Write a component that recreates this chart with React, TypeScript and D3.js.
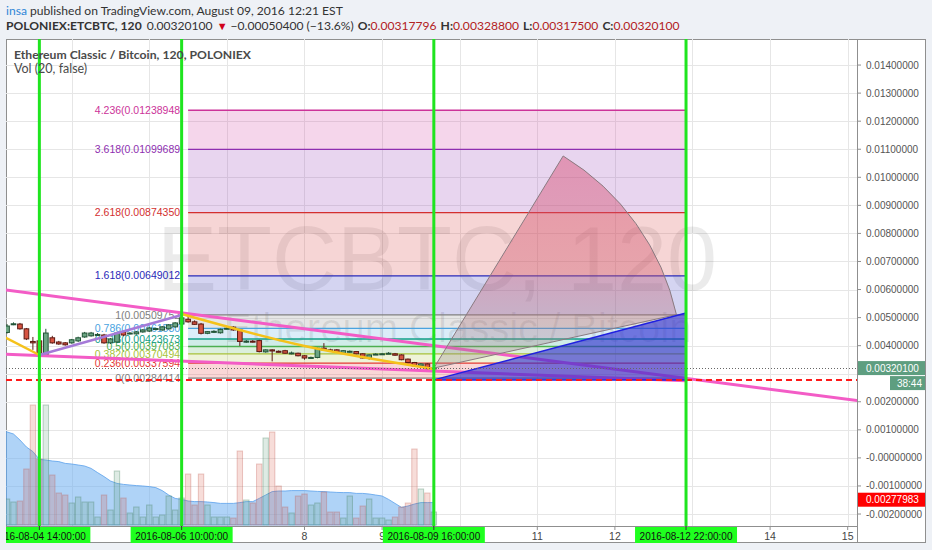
import React from 'react';
import * as d3 from 'd3';

// ---------- header / titles ----------
const HEADER_USER = 'insa';
const HEADER_PUBLISHED = ' published on TradingView.com, August 09, 2016 12:21 EST';
const SYMBOL = 'POLONIEX:ETCBTC, 120';
const LAST_PRICE = '0.00320100';
const CHANGE_TEXT = '\u22120.00050400 (\u221213.6%)';
const OHLC_KEYS = ['O:', 'H:', 'L:', 'C:'];
const OHLC_VALUES = ['0.00317796', '0.00328800', '0.00317500', '0.00320100'];
const TITLE = 'Ethereum Classic / Bitcoin, 120, POLONIEX';
const VOL_TITLE = 'Vol (20, false)';
const WATERMARK_1 = 'ETCBTC, 120';
const WATERMARK_2 = 'Ethereum Classic / Bitcoin';
const COUNTDOWN = '38:44';

// ---------- 120-minute candles, first bar 2016-08-04 04:00 ----------
const BAR_START = Date.UTC(2016, 7, 4, 4, 0);
const BAR_HOURS = 2;
const candleOpen = [
  0.00447, 0.00476, 0.00477, 0.00460, 0.00415, 0.00417, 0.00364, 0.00428, 0.00413, 0.00410,
  0.00410, 0.00417, 0.00431, 0.00435, 0.00438, 0.00438, 0.00410, 0.00413, 0.00449, 0.00444,
  0.00442, 0.00449, 0.00452, 0.00460, 0.00456, 0.00460, 0.00467, 0.00477, 0.00494, 0.00485,
  0.00477, 0.00444, 0.00450, 0.00446, 0.00461, 0.00466, 0.00456, 0.00415, 0.00416, 0.00418,
  0.00378, 0.00385, 0.00380, 0.00382, 0.00372, 0.00373, 0.00364, 0.00357, 0.00358, 0.00391,
  0.00385, 0.00385, 0.00373, 0.00379, 0.00379, 0.00371, 0.00356, 0.00369, 0.00370, 0.00372,
  0.00371, 0.00367, 0.00352, 0.00340, 0.00328, 0.00335, 0.00317796,
];
const candleHigh = [
  0.00477, 0.00483, 0.00481, 0.00463, 0.00431, 0.00420, 0.00460, 0.00435, 0.00417, 0.00413,
  0.00424, 0.00432, 0.00449, 0.00449, 0.00445, 0.00442, 0.00427, 0.00449, 0.00452, 0.00448,
  0.00452, 0.00459, 0.00466, 0.00464, 0.00470, 0.00477, 0.00484, 0.0050975, 0.00506, 0.00490,
  0.00481, 0.00452, 0.00455, 0.00461, 0.00466, 0.00469, 0.00459, 0.00420, 0.00420, 0.00421,
  0.00387, 0.00387, 0.00383, 0.00385, 0.00379, 0.00375, 0.00366, 0.00361, 0.00393, 0.00409,
  0.00389, 0.00388, 0.00384, 0.00383, 0.00381, 0.00373, 0.00369, 0.00373, 0.00374, 0.00377,
  0.00374, 0.00369, 0.00354, 0.00342, 0.00338, 0.00337, 0.003288,
];
const candleLow = [
  0.00443, 0.00473, 0.00457, 0.00420, 0.00385, 0.00361, 0.00361, 0.00407, 0.00403, 0.00400,
  0.00407, 0.00413, 0.00428, 0.00432, 0.00435, 0.00407, 0.00406, 0.00410, 0.00434, 0.00440,
  0.00439, 0.00446, 0.00449, 0.00456, 0.00453, 0.00457, 0.00464, 0.00474, 0.00482, 0.00474,
  0.00440, 0.00441, 0.00445, 0.00443, 0.00458, 0.00453, 0.00399, 0.00410, 0.00411, 0.00376,
  0.00375, 0.00344, 0.00376, 0.00371, 0.00369, 0.00362, 0.00350, 0.00353, 0.00355, 0.00383,
  0.00381, 0.00374, 0.00371, 0.00375, 0.00369, 0.00354, 0.00350, 0.00367, 0.00368, 0.00370,
  0.00364, 0.00348, 0.00337, 0.00326, 0.00325, 0.00314, 0.003175,
];
const candleClose = [
  0.00470, 0.00478, 0.00460, 0.00424, 0.00410, 0.00364, 0.00445, 0.00410, 0.00406, 0.00403,
  0.00421, 0.00428, 0.00445, 0.00445, 0.00440, 0.00410, 0.00424, 0.00445, 0.00438, 0.00445,
  0.00449, 0.00456, 0.00463, 0.00461, 0.00467, 0.00474, 0.00481, 0.00499, 0.00485, 0.00476,
  0.00444, 0.00450, 0.00451, 0.00458, 0.00462, 0.00456, 0.00415, 0.00416, 0.00415, 0.00379,
  0.00385, 0.00381, 0.00379, 0.00373, 0.00374, 0.00364, 0.00356, 0.00358, 0.00391, 0.00385,
  0.00384, 0.00376, 0.00382, 0.00380, 0.00371, 0.00356, 0.00367, 0.00370, 0.00371, 0.00373,
  0.00366, 0.00350, 0.00340, 0.00328, 0.00335, 0.00317, 0.003201,
];
const volume = [
  13, 11.5, 12, 28, 60, 33, 60, 25, 16, 15,
  11, 14, 11.5, 11.5, 4, 15, 7.5, 27, 13.5, 6,
  9, 4, 10, 4, 5, 14.5, 7.5, 13.5, 25.5, 10,
  25.5, 10, 4, 4, 4, 3.5, 37, 12.5, 11, 30.5,
  43.5, 46.5, 19.5, 9, 6, 14.5, 15.5, 10, 11, 16.5,
  6.5, 6.5, 3.5, 14.5, 3.5, 9.5, 13, 3.5, 3.5, 2.5,
  4, 9, 11, 38, 18, 16, 6.5,
];
const volumeMA = [
  46.7, 45.5, 42.5, 39, 36.7, 32.8, 32.5, 32, 31.7, 30.8,
  30.5, 30, 29.5, 28.3, 26.2, 24.2, 22, 20.8, 20.3, 20,
  19.7, 19.5, 19.2, 18.7, 17.2, 15, 13.3, 12.8, 12, 11.7,
  11.7, 11.5, 11.2, 10.8, 10.8, 10.8, 11.2, 11.7, 11.7, 13.3,
  15, 16.7, 17, 17, 17.2, 17.2, 17.2, 17, 16.8, 16.7,
  16.5, 16.3, 16.2, 16.2, 15.8, 15.8, 15.5, 15, 14.5, 12.8,
  10.8, 8.8, 9.5, 10.5, 11.2, 11.2, 11.2,
];

// ---------- Fibonacci retracement ----------
const fibRatios = ['0', '0.236', '0.382', '0.5', '0.618', '0.786', '1', '1.618', '2.618', '3.618', '4.236'];
const fibPrices = [
  0.00284414, 0.00337594, 0.00370494, 0.00397083, 0.00423673, 0.0046153,
  0.00509752, 0.00649012, 0.0087435, 0.01099689, 0.01238948,
];
const fibColors = [
  '#808080', '#e53935', '#a8c23a', '#4caf50', '#13a08a', '#4aa3df',
  '#808080', '#2a2ab8', '#d32f2f', '#8e2fb0', '#cc3399',
];
const FIB_START = Date.UTC(2016, 7, 6, 12, 0);
const FIB_END = Date.UTC(2016, 7, 12, 22, 0);

// ---------- vertical markers ----------
const markerTimes = [
  Date.UTC(2016, 7, 4, 14, 0),
  Date.UTC(2016, 7, 6, 10, 0),
  Date.UTC(2016, 7, 9, 16, 0),
  Date.UTC(2016, 7, 12, 22, 0),
];

// ---------- horizontal lines ----------
const HLINE_PRICE = 0.00277983;
const LAST_VALUE = 0.003201;

// ---------- trend lines (time, price) ----------
const trendUpper = [[Date.UTC(2016, 7, 4, 14, 0), 0.00583], [Date.UTC(2016, 7, 12, 22, 0), 0.002837]];
const trendLower = [[Date.UTC(2016, 7, 4, 14, 0), 0.003646], [Date.UTC(2016, 7, 9, 16, 0), 0.003097]];
const trendLowerEnd = Date.UTC(2016, 7, 12, 22, 0);
const riseLine = [[Date.UTC(2016, 7, 4, 14, 0), 0.003667], [Date.UTC(2016, 7, 6, 10, 0), 0.005093]];
const fallLeft = [[Date.UTC(2016, 7, 4, 2, 0), 0.00438], [Date.UTC(2016, 7, 4, 14, 0), 0.003667]];
const fallCurve = [
  [Date.UTC(2016, 7, 6, 10, 0), 0.005128],
  [Date.UTC(2016, 7, 8, 0, 0), 0.003988],
  [Date.UTC(2016, 7, 9, 16, 0), 0.003172],
];

// ---------- projection shapes ----------
const sectorCenter = [Date.UTC(2016, 7, 9, 16, 0), 0.003201];
const sectorTop = [Date.UTC(2016, 7, 11, 8, 0), 0.01076];
const sectorEnd = [Date.UTC(2016, 7, 12, 20, 0), 0.00513];
const triangle = [
  [Date.UTC(2016, 7, 9, 16, 0), 0.00277983],
  [Date.UTC(2016, 7, 12, 22, 0), 0.005164],
  [Date.UTC(2016, 7, 12, 22, 0), 0.00277983],
];

// ---------- axis ticks ----------
const priceTickLabels = [
  '0.01400000', '0.01300000', '0.01200000', '0.01100000', '0.01000000', '0.00900000',
  '0.00800000', '0.00700000', '0.00600000', '0.00500000', '0.00400000', '0.00300000',
  '0.00200000', '0.00100000', '-0.00000000', '-0.00100000', '-0.00200000',
];
const dayTicks = [5, 6, 7, 8, 9, 10, 11, 12, 13, 14, 15];

const fmtFull = d3.utcFormat('%Y-%m-%d %H:%M:%S');
const UI_FONT = "Lato, 'Open Sans', sans-serif";

export default function App() {
  const W = 932;
  const H = 550;
  const P = { left: 6, right: 857, top: 39, bottom: 526 };
  const axisRight = 926;
  const frameBottom = 543;
  const markerHalf = 51;

  const x = d3
    .scaleUtc()
    .domain([new Date(Date.UTC(2016, 7, 4)), new Date(Date.UTC(2016, 7, 16))])
    .range([-5.9, 925.3]);
  const y = d3.scaleLinear().domain([0, 0.014]).range([457.9, 65.06]);
  const vy = d3.scaleLinear().domain([0, 60]).range([525, 405]);

  const barTime = (i: number) => BAR_START + i * BAR_HOURS * 3600e3;
  const X = (t: number) => x(new Date(t)) as number;
  const barW = X(BAR_START + BAR_HOURS * 3600e3) - X(BAR_START);

  const fibX0 = X(FIB_START);
  const fibX1 = X(FIB_END);

  // extend a 2-point line over the time range [ta, tb]
  const extend = (pts: number[][], ta: number, tb: number): [number, number][] => {
    const [[t1, p1], [t2, p2]] = pts;
    const slope = (p2 - p1) / (t2 - t1);
    return [
      [X(ta), y(p1 + slope * (ta - t1))],
      [X(tb), y(p1 + slope * (tb - t1))],
    ];
  };
  const leftT = Date.UTC(2016, 7, 3, 12, 0);
  const rightT = Date.UTC(2016, 7, 16, 0, 0);
  const upperPts = extend(trendUpper, leftT, rightT);
  const lowerPts = extend(trendLower, leftT, trendLowerEnd);
  const straight = d3.line();
  const toPx = (pts: number[][]) => pts.map((d) => [X(d[0]), y(d[1])] as [number, number]);
  const curved = d3
    .line<number[]>()
    .x((d) => X(d[0]))
    .y((d) => y(d[1]))
    .curve(d3.curveNatural);

  // sector geometry
  const cx = X(sectorCenter[0]);
  const cy = y(sectorCenter[1]);
  const tx = X(sectorTop[0]);
  const ty = y(sectorTop[1]);
  const r = Math.hypot(tx - cx, ty - cy);
  const endAng = Math.atan2(y(sectorEnd[1]) - cy, X(sectorEnd[0]) - cx);
  const ex = cx + r * Math.cos(endAng);
  const ey = cy + r * Math.sin(endAng);
  const sectorPath = `M${cx},${cy}L${tx},${ty}A${r},${r} 0 0 1 ${ex},${ey}Z`;

  const triPath = straight(toPx(triangle)) + 'Z';

  const volArea = d3
    .area<number>()
    .x((_, i) => (i === 0 ? P.left : X(barTime(i))))
    .y0(vy(0))
    .y1((d) => vy(d));

  const up = (i: number) => candleClose[i] >= candleOpen[i];
  const lastY = y(LAST_VALUE);
  const alertY = y(-0.00149);

  // day labels hidden behind marker date boxes are skipped
  const visibleDays = dayTicks.filter((d) => {
    const dx = X(Date.UTC(2016, 7, d));
    return !markerTimes.some((t) => Math.abs(X(t) - dx) < markerHalf);
  });
  // price labels covered by the last-price badges are skipped
  const visiblePriceTicks = priceTickLabels.filter((s) => {
    const py = y(parseFloat(s));
    return !(py > lastY - 8 && py < lastY + 24) && Math.abs(py - alertY) > 8;
  });

  return (
    <svg
      width={W}
      height={H}
      style={{ position: 'absolute', left: 0, top: 0, display: 'block' }}
      fontFamily="'Liberation Sans', Arial, sans-serif"
    >
      <defs>
        <clipPath id="plotClip">
          <rect x={P.left} y={P.top} width={P.right - P.left} height={P.bottom - P.top} />
        </clipPath>
        <linearGradient id="sectorFill" x1="0" y1="0" x2="0" y2="1">
          <stop offset="0%" stopColor="rgb(215,70,110)" stopOpacity={0.45} />
          <stop offset="55%" stopColor="rgb(205,85,105)" stopOpacity={0.38} />
          <stop offset="100%" stopColor="rgb(140,140,140)" stopOpacity={0.3} />
        </linearGradient>
      </defs>

      <rect x={0} y={0} width={W} height={H} fill="#eef1f6" />

      {/* header */}
      <g fontFamily={UI_FONT} fontSize={12.1} fill="#333">
        <text x={6} y={15}>
          <tspan fill="#2f86d6">{HEADER_USER}</tspan>
          <tspan>{HEADER_PUBLISHED}</tspan>
        </text>
        <text x={6} y={30}>
          <tspan fontWeight="bold">{SYMBOL}</tspan>
          <tspan dx={5}>{LAST_PRICE}</tspan>
          <tspan dx={4} fill="#d0021b" fontSize={11}>{'\u25BC'}</tspan>
          <tspan dx={3}>{CHANGE_TEXT}</tspan>
          {OHLC_KEYS.map((k, i) => (
            <React.Fragment key={k}>
              <tspan dx={4} fontWeight="bold">{k}</tspan>
              <tspan fill="#b22222">{OHLC_VALUES[i]}</tspan>
            </React.Fragment>
          ))}
        </text>
      </g>

      {/* chart frame */}
      <rect
        x={P.left + 0.5}
        y={P.top + 0.5}
        width={axisRight - P.left - 1}
        height={frameBottom - P.top - 1}
        fill="#fff"
        stroke="#8f8f8f"
      />

      <g clipPath="url(#plotClip)">
        {/* grid */}
        {priceTickLabels.map((s) => {
          const gy = Math.round(y(parseFloat(s))) + 0.5;
          return <line key={'gy' + s} x1={P.left} x2={P.right} y1={gy} y2={gy} stroke="#e6e6e6" />;
        })}
        {dayTicks.map((d) => {
          const gx = Math.round(X(Date.UTC(2016, 7, d))) + 0.5;
          return <line key={'gx' + d} x1={gx} x2={gx} y1={P.top} y2={P.bottom} stroke="#e6e6e6" />;
        })}

        {/* watermark */}
        <text x={437} y={290} textAnchor="middle" fontSize={90} fill="#000" fillOpacity={0.08}>
          {WATERMARK_1}
        </text>
        <text x={458} y={342} textAnchor="middle" fontSize={40} fill="#000" fillOpacity={0.09}>
          {WATERMARK_2}
        </text>

        {/* volume */}
        <path
          d={volArea(volumeMA) || ''}
          fill="rgba(110,175,240,0.55)"
          stroke="rgba(90,160,235,0.8)"
          strokeWidth={1}
        />
        {volume.map((v, i) => {
          const cxb = X(barTime(i));
          const isUp = up(i);
          return (
            <rect
              key={'v' + i}
              x={cxb - 2.7}
              y={vy(v)}
              width={5.4}
              height={vy(0) - vy(v)}
              fill={isUp ? 'rgba(107,165,131,0.22)' : 'rgba(215,84,66,0.2)'}
              stroke={isUp ? 'rgba(70,130,95,0.35)' : 'rgba(190,80,70,0.3)'}
              strokeWidth={1}
            />
          );
        })}

        {/* fibonacci bands */}
        {fibPrices.slice(1).map((p, i) => (
          <rect
            key={'fb' + i}
            x={fibX0}
            y={y(p)}
            width={fibX1 - fibX0}
            height={y(fibPrices[i]) - y(p)}
            fill={fibColors[i + 1]}
            fillOpacity={0.2}
          />
        ))}
        {fibPrices.map((p, i) => (
          <line
            key={'fl' + i}
            x1={fibX0}
            x2={fibX1}
            y1={y(p)}
            y2={y(p)}
            stroke={fibColors[i]}
            strokeWidth={1.3}
          />
        ))}
        {fibPrices.map((p, i) => (
          <text
            key={'ft' + i}
            x={fibX0 - 8}
            y={y(p)}
            dy="0.35em"
            textAnchor="end"
            fontSize={10.5}
            fill={fibColors[i]}
          >
            {`${fibRatios[i]}(${p.toFixed(8)}`}
          </text>
        ))}

        {/* candles */}
        {candleOpen.map((o, i) => {
          const cxc = X(barTime(i));
          const isUp = up(i);
          const top = y(Math.max(o, candleClose[i]));
          const bot = y(Math.min(o, candleClose[i]));
          const h = Math.max(1, bot - top);
          const edge = isUp ? '#225437' : '#5b1a13';
          return (
            <g key={'c' + i}>
              <line x1={cxc} x2={cxc} y1={y(candleHigh[i])} y2={y(candleLow[i])} stroke={edge} strokeWidth={1} />
              <rect
                x={cxc - barW * 0.36}
                y={top}
                width={barW * 0.72}
                height={h}
                fill={isUp ? '#6ba583' : '#d75442'}
                stroke={edge}
                strokeWidth={1}
              />
            </g>
          );
        })}

        {/* trend lines */}
        <path d={straight(upperPts) || ''} stroke="#f35cc6" strokeWidth={3} fill="none" />
        <path d={straight(lowerPts) || ''} stroke="#f35cc6" strokeWidth={3} fill="none" />
        <path d={straight(toPx(riseLine)) || ''} stroke="#a57ad8" strokeWidth={2.5} fill="none" />
        <path d={straight(toPx(fallLeft)) || ''} stroke="#f5c21b" strokeWidth={2.5} fill="none" />
        <path d={curved(fallCurve) || ''} stroke="#f5c21b" strokeWidth={2.5} fill="none" />

        {/* projection sector and triangle */}
        <path d={sectorPath} fill="url(#sectorFill)" stroke="#8a7a80" strokeWidth={1} />
        <path d={triPath} fill="#2c2ccf" fillOpacity={0.62} stroke="#2020e0" strokeWidth={1.5} />

        {/* horizontal lines */}
        <line
          x1={P.left}
          x2={P.right}
          y1={y(HLINE_PRICE)}
          y2={y(HLINE_PRICE)}
          stroke="#ff1a1a"
          strokeWidth={2}
          strokeDasharray="6 4"
        />
        <line
          x1={P.left}
          x2={P.right}
          y1={Math.round(lastY) + 0.5}
          y2={Math.round(lastY) + 0.5}
          stroke="#666"
          strokeWidth={1}
          strokeDasharray="1 2"
        />

        {/* vertical markers */}
        {markerTimes.map((t) => (
          <line key={'m' + t} x1={X(t)} x2={X(t)} y1={P.top} y2={P.bottom} stroke="#1fe51f" strokeWidth={3} />
        ))}

        {/* titles */}
        <text
          x={14}
          y={59}
          fontFamily={UI_FONT}
          fontWeight="bold"
          fontSize={12}
          fill="#4a4a4a"
          textLength={237}
          lengthAdjust="spacingAndGlyphs"
        >
          {TITLE}
        </text>
        <text x={14} y={73} fontFamily={UI_FONT} fontSize={12.5} fill="#4a4a4a">
          {VOL_TITLE}
        </text>
      </g>

      {/* right price axis */}
      <line x1={P.right + 0.5} x2={P.right + 0.5} y1={P.top} y2={frameBottom} stroke="#8f8f8f" />
      {priceTickLabels.map((s) => {
        const ty2 = y(parseFloat(s));
        return <line key={'yk' + s} x1={P.right} x2={P.right + 4} y1={ty2} y2={ty2} stroke="#8f8f8f" />;
      })}
      {visiblePriceTicks.map((s) => (
        <text key={'yt' + s} x={P.right + 9} y={y(parseFloat(s))} dy="0.35em" fontSize={10} fill="#555">
          {s}
        </text>
      ))}
      <rect x={P.right + 1} y={lastY - 7} width={axisRight - P.right - 2} height={14} fill="#5e9e80" />
      <text x={P.right + 9} y={lastY} dy="0.35em" fontSize={10} fill="#fff">
        {LAST_PRICE}
      </text>
      <rect x={890} y={lastY + 8} width={axisRight - 890 - 1} height={14} fill="#5e9e80" />
      <text x={922} y={lastY + 15} dy="0.35em" fontSize={10} fill="#fff" textAnchor="end">
        {COUNTDOWN}
      </text>
      <rect x={P.right + 1} y={alertY - 7} width={axisRight - P.right - 2} height={14} fill="#ff0000" />
      <text x={P.right + 9} y={alertY} dy="0.35em" fontSize={10} fill="#fff">
        {HLINE_PRICE.toFixed(8)}
      </text>

      {/* bottom time axis */}
      <line x1={P.left} x2={P.right} y1={P.bottom + 0.5} y2={P.bottom + 0.5} stroke="#8f8f8f" />
      {dayTicks.map((d) => {
        const tx2 = X(Date.UTC(2016, 7, d));
        return <line key={'xt' + d} x1={tx2} x2={tx2} y1={P.bottom} y2={P.bottom + 4} stroke="#8f8f8f" />;
      })}
      {visibleDays.map((d) => (
        <text
          key={'xl' + d}
          x={X(Date.UTC(2016, 7, d))}
          y={536}
          dy="0.35em"
          textAnchor="middle"
          fontSize={10.5}
          fill="#444"
        >
          {d}
        </text>
      ))}
      <svg x={P.left} y={P.bottom} width={P.right - P.left} height={frameBottom - P.bottom}>
        {markerTimes.map((t) => {
          const mx = X(t) - P.left;
          return (
            <g key={'mb' + t}>
              <rect x={mx - markerHalf} y={1} width={markerHalf * 2} height={16} fill="#1fff1f" />
              <line x1={mx} x2={mx} y1={0} y2={4} stroke="#333" />
              <text x={mx} y={10} dy="0.35em" textAnchor="middle" fontSize={10} fill="#111">
                {fmtFull(new Date(t))}
              </text>
            </g>
          );
        })}
      </svg>
    </svg>
  );
}
